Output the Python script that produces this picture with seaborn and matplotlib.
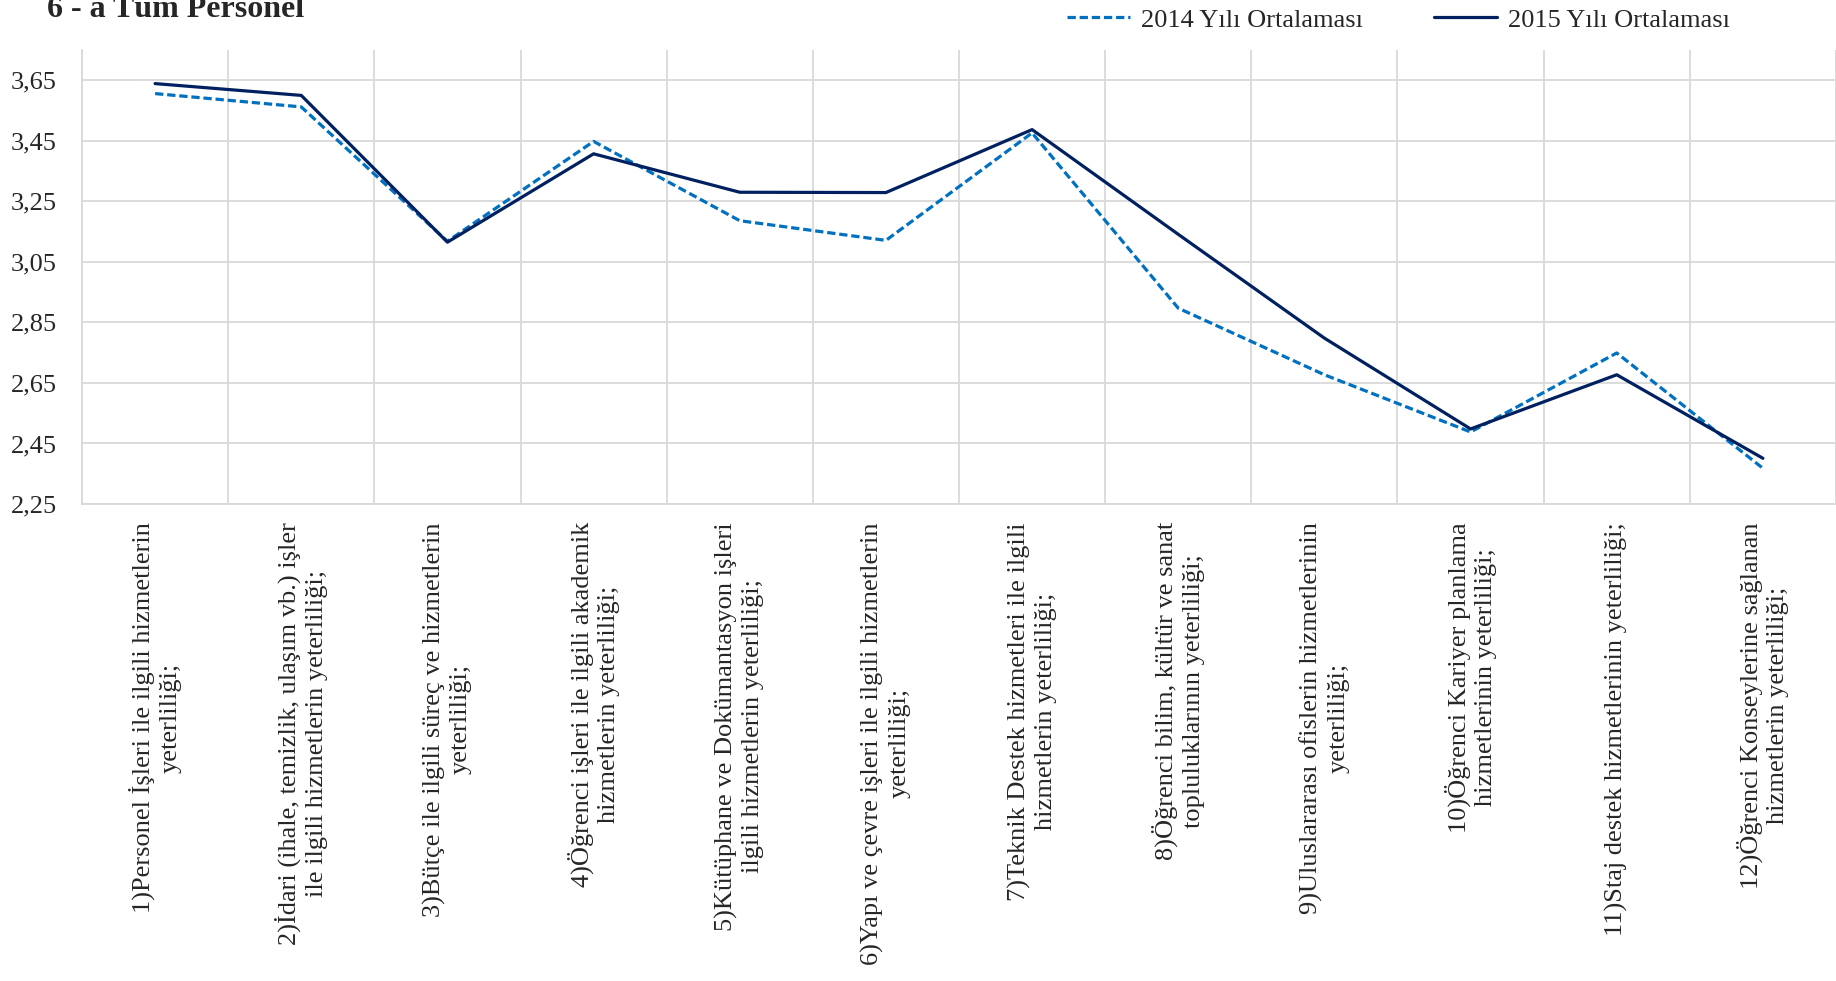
import matplotlib
matplotlib.use("Agg")
import matplotlib.pyplot as plt
import seaborn as sns
import pandas as pd
import numpy as np
from matplotlib.ticker import FixedLocator, FuncFormatter
from matplotlib.lines import Line2D

# ---- data ----
categories = [
    "1)Personel İşleri ile ilgili hizmetlerin\nyeterliliği;",
    "2)İdari (ihale, temizlik, ulaşım vb.) işler\nile ilgili hizmetlerin yeterliliği;",
    "3)Bütçe ile ilgili süreç ve hizmetlerin\nyeterliliği;",
    "4)Öğrenci işleri ile ilgili akademik\nhizmetlerin yeterliliği;",
    "5)Kütüphane ve Dokümantasyon işleri\nilgili hizmetlerin yeterliliği;",
    "6)Yapı ve çevre işleri ile ilgili hizmetlerin\nyeterliliği;",
    "7)Teknik Destek hizmetleri ile ilgili\nhizmetlerin yeterliliği;",
    "8)Öğrenci bilim, kültür ve sanat\ntopluluklarının yeterliliği;",
    "9)Uluslararası ofislerin hizmetlerinin\nyeterliliği;",
    "10)Öğrenci Kariyer planlama\nhizmetlerinin yeterliliği;",
    "11)Staj destek hizmetlerinin yeterliliği;",
    "12)Öğrenci Konseylerine sağlanan\nhizmetlerin yeterliliği;",
]
values_2014 = [3.606, 3.562, 3.118, 3.448, 3.186, 3.121, 3.476, 2.897, 2.677, 2.488, 2.749, 2.368]
values_2015 = [3.639, 3.600, 3.115, 3.407, 3.280, 3.279, 3.487, 3.141, 2.798, 2.498, 2.677, 2.401]
series_names = ["2014 Yılı Ortalaması", "2015 Yılı Ortalaması"]
y_ticks = [2.25, 2.45, 2.65, 2.85, 3.05, 3.25, 3.45, 3.65]
title = "6 - a Tüm Personel"

# ---- style ----
sns.set_style("white")
plt.rcParams["font.family"] = ["Liberation Serif", "DejaVu Serif"]
FS = 19
LW = 2.3

df = pd.DataFrame({
    "Kategori": categories * 2,
    "Ortalama": values_2014 + values_2015,
    "Seri": [series_names[0]] * len(categories) + [series_names[1]] * len(categories),
})

fig = plt.figure(figsize=(18.36, 9.81), dpi=100)
ax = fig.add_axes([82 / 1836, 1 - 504 / 981, 1 - 82 / 1836, (504 - 50) / 981])

colors = {series_names[0]: "#0070C0", series_names[1]: "#002060"}
sns.lineplot(data=df, x="Kategori", y="Ortalama", hue="Seri", style="Seri",
             palette=colors, dashes={series_names[0]: (2.6, 1.2), series_names[1]: ""},
             sort=False, linewidth=LW, ax=ax, legend=False)

n = len(categories)
ax.set_xlim(-0.5, n - 0.5)
ax.set_ylim(2.25, 3.75)
ax.yaxis.set_major_locator(FixedLocator(y_ticks))
ax.yaxis.set_major_formatter(FuncFormatter(lambda v, p: f"{v:.2f}".replace(".", ",")))
ax.xaxis.set_minor_locator(FixedLocator(np.arange(n + 1) - 0.5))

ax.grid(True, axis="y", which="major", color="#D9D9D9", linewidth=1.3)
ax.grid(True, axis="x", which="minor", color="#D9D9D9", linewidth=1.3)
ax.grid(False, axis="x", which="major")
ax.set_axisbelow(True)

for s in ["top", "right"]:
    ax.spines[s].set_visible(False)
for s in ["left", "bottom"]:
    ax.spines[s].set_color("#D9D9D9")
    ax.spines[s].set_linewidth(1.3)

ax.set_xticks(range(n))
ax.set_xticklabels(categories, rotation=90, ha="center", va="top",
                   multialignment="center", fontsize=FS, linespacing=1.25)
ax.tick_params(axis="x", which="both", length=0, pad=13)
ax.tick_params(axis="y", length=0, pad=18, labelsize=FS)
ax.set_xlabel("")
ax.set_ylabel("")

fig.text(47 / 1836, 1 - 17 / 981, title, fontsize=23, fontweight="bold",
         ha="left", va="baseline")

handles = [
    Line2D([], [], color=colors[series_names[0]], linewidth=LW, dashes=(2.6, 1.2)),
    Line2D([], [], color=colors[series_names[1]], linewidth=LW),
]
fig.legend(handles, series_names, loc="center left",
           bbox_to_anchor=(1067 / 1836, 1 - 20 / 981), ncol=2, frameon=False,
           fontsize=FS, handlelength=2.4, handletextpad=0.4, columnspacing=2.7,
           borderpad=0, borderaxespad=0)

fig.savefig("out.png", dpi=100)
